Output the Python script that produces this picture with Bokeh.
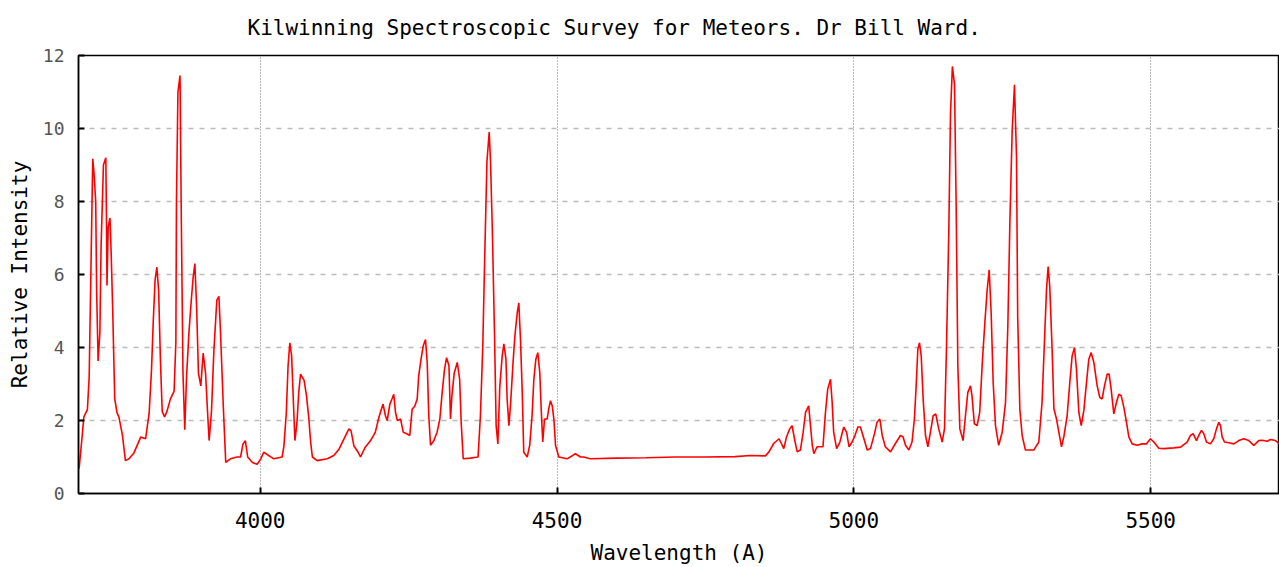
from bokeh.plotting import figure
from bokeh.models import FixedTicker, Range1d
from bokeh.embed import file_html
from bokeh.resources import INLINE

title_text = "Kilwinning Spectroscopic Survey for Meteors. Dr Bill Ward."
x_label = "Wavelength (A)"
y_label = "Relative Intensity"
x_ticks = [4000, 4500, 5000, 5500]
y_ticks = [0, 2, 4, 6, 8, 10, 12]
x_min, x_max = 3694, 5717
y_min, y_max = 0, 12

# blue / violet region
wl_a = [3695, 3700, 3703, 3709, 3712, 3715.5, 3718, 3720, 3723, 3724.5, 3727, 3730, 3732,
        3736, 3740, 3741, 3742, 3744, 3747, 3749, 3751.5, 3755, 3759, 3762, 3768, 3773,
        3779, 3787, 3799, 3807, 3813, 3817, 3820, 3823, 3826, 3829, 3832, 3835, 3839,
        3843, 3849, 3855, 3858, 3859, 3861.5, 3865, 3867, 3870, 3873, 3876, 3880, 3884,
        3887, 3890, 3893, 3896, 3900, 3904, 3908, 3911, 3914, 3918, 3922, 3927, 3930.5,
        3933, 3938, 3942, 3950, 3961, 3967, 3971, 3975, 3979, 3987, 3995, 4001]
in_a = [0.68, 1.54, 2.1, 2.3, 3.2, 6.7, 9.17, 8.8, 8.0, 5.6, 3.63, 4.4, 6.75,
        9.0, 9.2, 7.7, 5.7, 7.3, 7.55, 6.6, 5.1, 2.6, 2.2, 2.1, 1.6, 0.9,
        0.95, 1.1, 1.55, 1.5, 2.2, 3.4, 4.75, 5.85, 6.2, 5.55, 3.65, 2.25, 2.1,
        2.25, 2.6, 2.8, 4.15, 8.0, 11.0, 11.45, 7.8, 3.3, 1.75, 3.2, 4.4, 5.3,
        5.9, 6.3, 5.1, 3.3, 2.95, 3.85, 3.3, 2.35, 1.45, 2.25, 3.9, 5.3, 5.4,
        4.5, 2.35, 0.85, 0.95, 1.0, 1.0, 1.35, 1.45, 1.0, 0.85, 0.8, 0.95]

# 4000 - 4560 A
wl_b = [4006, 4023, 4037, 4040, 4044, 4047, 4050, 4053, 4056, 4058.5, 4062, 4065, 4068,
        4074, 4078, 4082, 4085, 4088, 4096, 4113, 4124, 4133, 4141, 4149.5, 4153, 4158,
        4165, 4169, 4177, 4186, 4194, 4200, 4204, 4207, 4211, 4214, 4218.5, 4222, 4225,
        4228, 4231, 4236.5, 4241, 4248, 4252, 4256, 4260.5, 4264.5, 4267, 4271, 4274.6,
        4278.5, 4281.4, 4284, 4287, 4292.6, 4298, 4302.7, 4306.6, 4310.5, 4314, 4318,
        4320.6, 4323, 4327, 4332, 4336, 4338.6, 4342, 4354, 4367, 4371, 4375, 4378.5,
        4382, 4385.8, 4388, 4391, 4394.7, 4397.5, 4400.4, 4403.7, 4407.7, 4410.5, 4414,
        4416, 4419, 4422, 4425.6, 4429, 4433, 4435.7, 4438.5, 4441.3, 4444, 4449.8,
        4454, 4458, 4461, 4464.4, 4467.7, 4471, 4473.4, 4476, 4479, 4483.4, 4486, 4489,
        4492, 4494.7, 4497.5, 4503, 4517, 4531, 4539.6, 4545, 4556]
in_b = [1.13, 0.95, 1.0, 1.3, 2.2, 3.5, 4.13, 3.77, 2.5, 1.45, 1.95, 2.77, 3.27,
        3.1, 2.68, 2.05, 1.41, 1.0, 0.9, 0.95, 1.04, 1.22, 1.49, 1.77, 1.72, 1.3,
        1.13, 1.0, 1.27, 1.45, 1.68, 2.09, 2.3, 2.45, 2.13, 2.0, 2.45, 2.59, 2.72,
        2.22, 2.0, 2.04, 1.68, 1.63, 1.59, 2.31, 2.4, 2.59, 3.22, 3.68, 4.04,
        4.22, 3.59, 2.13, 1.32, 1.45, 1.68, 2.04, 2.77, 3.4, 3.72, 3.5,
        2.04, 2.68, 3.31, 3.59, 3.13, 1.95, 0.95, 0.97, 1.0, 2.13, 4.04, 6.67,
        9.1, 9.9, 9.1, 7.28, 4.4, 1.86, 1.36, 2.95, 3.77, 4.1, 3.68,
        2.59, 1.86, 2.5, 3.5, 4.31, 4.95, 5.22, 4.22, 2.86, 1.13, 1.0,
        1.32, 2.13, 3.13, 3.68, 3.86, 3.31, 2.31, 1.41, 2.04, 2.04, 2.31, 2.54,
        2.4, 2.04, 1.32, 1.0, 0.95, 1.09, 1.0, 1.0, 0.95]

# quiet continuum 4560 - 4830 A
wl_c = [4600, 4650, 4700, 4750, 4800, 4826]
in_c = [0.97, 0.98, 1.0, 1.0, 1.01, 1.04]

# 4850 - 5350 A
wl_d = [4851, 4857, 4865, 4874, 4878, 4882, 4886.6, 4892, 4896, 4900, 4904.6, 4910,
        4914.7, 4918.6, 4924, 4927, 4930, 4932.7, 4938, 4948, 4952, 4956, 4960.7,
        4963.5, 4966, 4971, 4976.5, 4983, 4987.7, 4992, 4997, 5001, 5006.8, 5011, 5017,
        5022.5, 5028, 5034.8, 5039, 5043.8, 5047.8, 5053, 5061.8, 5070, 5078.6, 5083,
        5087, 5092.7, 5098, 5102, 5105, 5107.8, 5110.6, 5113.5, 5116.8, 5120.7, 5124.7,
        5129, 5133.6, 5138, 5143, 5148.8, 5152.7, 5156, 5160, 5162.8, 5166, 5169.6,
        5172.4, 5175.2, 5178.6, 5184, 5188, 5192, 5196.5, 5199, 5203, 5207.7, 5212,
        5216.7, 5220.7, 5224.6, 5228, 5231.3, 5234.7, 5238.6, 5244, 5249.9, 5255.5,
        5259.4, 5262.8, 5266.7, 5270.6, 5274, 5276, 5279.6, 5283.5, 5289, 5303, 5311.6,
        5317, 5321, 5324.5, 5327.3, 5330, 5334, 5337, 5341.4, 5345.3, 5349.8]
in_d = [1.03, 1.14, 1.37, 1.5, 1.37, 1.23, 1.55, 1.77, 1.86, 1.5, 1.14, 1.19,
        1.68, 2.22, 2.4, 1.86, 1.32, 1.09, 1.28, 1.28, 2.18, 2.86, 3.13,
        2.49, 1.68, 1.23, 1.41, 1.82, 1.68, 1.28, 1.41, 1.55, 1.82, 1.82, 1.5,
        1.19, 1.23, 1.64, 1.95, 2.04, 1.59, 1.28, 1.14, 1.37, 1.59, 1.55,
        1.32, 1.19, 1.41, 2.04, 2.95, 3.95, 4.13, 3.77, 2.58, 1.59, 1.28,
        1.68, 2.13, 2.18, 1.77, 1.41, 1.77, 3.95, 7.22, 10.4, 11.7, 11.2,
        7.85, 3.49, 1.77, 1.45, 2.13, 2.77, 2.95, 2.68, 1.91, 1.86, 2.22,
        3.67, 4.68, 5.58, 6.13, 4.95, 3.04, 1.86, 1.32, 1.68, 2.49,
        4.59, 7.4, 9.94, 11.2, 9.22, 4.86, 2.32, 1.59, 1.19, 1.19, 1.41,
        2.49, 4.13, 5.58, 6.22, 5.67, 3.95, 2.32, 2.04, 1.68, 1.28]

# 5350 - 5717 A
wl_e = [5353.7, 5359.3, 5363.8, 5367.7, 5371.7, 5375, 5379, 5383, 5387.4, 5391.9,
        5395.8, 5399.8, 5404.3, 5409.9, 5414.3, 5418.3, 5422.2, 5426.7, 5430, 5433.4,
        5437.9, 5442.4, 5446.3, 5450.3, 5454.8, 5459.3, 5463.2, 5468.8, 5477.2, 5485.6,
        5493, 5499.7, 5505.3, 5513.7, 5522.1, 5539, 5550.2, 5561.4, 5567, 5571.5,
        5577.2, 5581, 5585.6, 5589.5, 5594, 5600.7, 5606.3, 5610.8, 5614.8, 5617.6,
        5620.4, 5624.3, 5631.6, 5640, 5648.4, 5656.9, 5665.3, 5673.7, 5682.1, 5687.8,
        5696.2, 5701.8, 5710.2, 5717]
in_e = [1.55, 2.13, 3.04, 3.77, 4.0, 3.4, 2.22, 1.86, 2.27, 3.04,
        3.68, 3.86, 3.59, 2.95, 2.63, 2.59, 2.95, 3.27, 3.27, 2.86,
        2.18, 2.5, 2.72, 2.68, 2.36, 1.95, 1.55, 1.36, 1.32, 1.36,
        1.36, 1.5, 1.41, 1.24, 1.23, 1.25, 1.27, 1.41, 1.59, 1.64,
        1.45, 1.59, 1.73, 1.64, 1.41, 1.36, 1.5, 1.77, 1.95, 1.86,
        1.55, 1.41, 1.39, 1.36, 1.45, 1.5, 1.45, 1.32, 1.45, 1.46,
        1.43, 1.48, 1.45, 1.36]

wavelength = wl_a + wl_b + wl_c + wl_d + wl_e
intensity = in_a + in_b + in_c + in_d + in_e

FONT = "DejaVu Sans Mono"

p = figure(width=1279, height=567,
           x_range=Range1d(x_min, x_max), y_range=Range1d(y_min, y_max),
           output_backend="svg", toolbar_location=None,
           min_border_left=78, min_border_right=0,
           min_border_top=55, min_border_bottom=72,
           title=title_text)

p.line(wavelength, intensity, line_color="#ff0000", line_width=1.6)

p.title.text_font = FONT
p.title.text_font_size = "21px"
p.title.text_font_style = "normal"
p.title.align = "left"
p.title.offset = 169
p.title.standoff = 28
p.title.vertical_align = "top"
p.title.text_color = "#000000"

p.outline_line_color = "#000000"
p.outline_line_width = 1.5
p.outline_line_alpha = 1
p.background_fill_color = "white"
p.border_fill_color = "white"

p.xaxis.ticker = FixedTicker(ticks=x_ticks)
p.yaxis.ticker = FixedTicker(ticks=y_ticks)
p.xaxis.minor_tick_line_color = None
p.yaxis.minor_tick_line_color = None
for ax in (p.xaxis, p.yaxis):
    ax.major_tick_in = 6
    ax.major_tick_out = 0
    ax.major_tick_line_color = "#000000"
    ax.major_tick_line_width = 2
    ax.axis_line_color = "#000000"
    ax.axis_line_width = 1.5
    ax.axis_label_text_font = FONT
    ax.axis_label_text_font_style = "normal"
    ax.axis_label_text_font_size = "21px"
    ax.axis_label_text_color = "#000000"
    ax.major_label_text_font = FONT

p.xaxis.axis_label = x_label
p.yaxis.axis_label = y_label
p.xaxis.major_label_text_font_size = "21px"
p.xaxis.major_label_text_color = "#000000"
p.xaxis.major_label_standoff = 18
p.xaxis.axis_label_standoff = 10
p.yaxis.major_label_text_font_size = "18px"
p.yaxis.major_label_text_color = "#555555"
p.yaxis.major_label_standoff = 14
p.yaxis.axis_label_standoff = 8

p.xgrid.grid_line_color = "#777777"
p.xgrid.grid_line_dash = "1 2"
p.xgrid.grid_line_width = 1
p.ygrid.grid_line_color = "#bbbbbb"
p.ygrid.grid_line_dash = "5 6"
p.ygrid.grid_line_width = 1.5

open("out.html", "w").write(file_html(p, INLINE))
